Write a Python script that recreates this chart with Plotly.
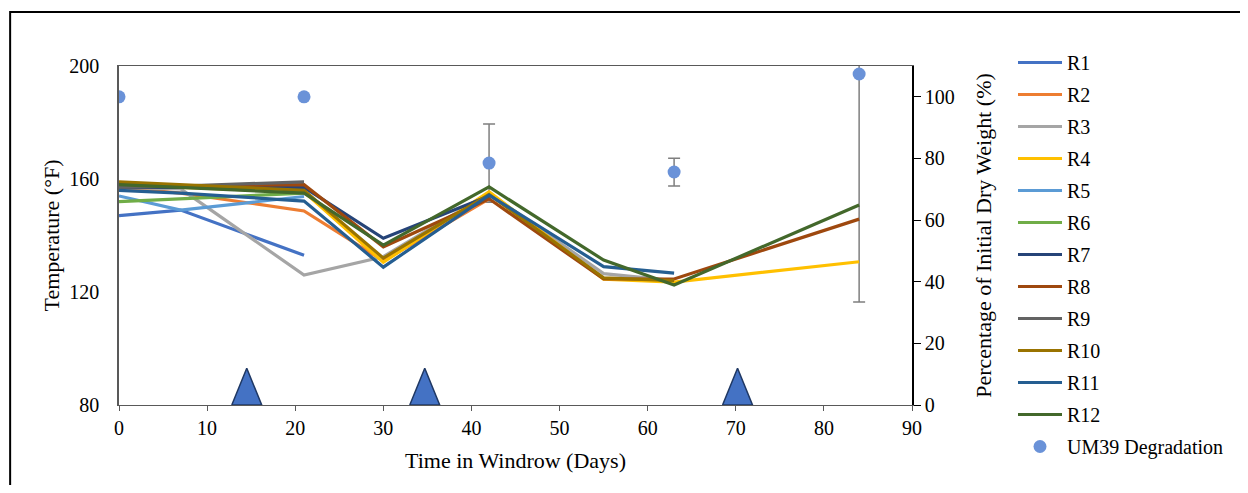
import plotly.graph_objects as go

# ---------------- data ----------------
days = [0, 7, 21, 30, 42, 55, 63, 84]
series_names = ["R1", "R2", "R3", "R4", "R5", "R6", "R7", "R8", "R9", "R10", "R11", "R12"]
R1 = [147, 149, 133]
R2 = [157, 155, 148.7, 131, 153]
R3 = [157, 156.5, 126, 132.5, 155, 126.5, 124]
R4 = [158.5, 157, 155.5, 130.5, 155.5, 124.5, 123.5, 130.7]
R5 = [154, 149, 153.8]
R6 = [152, 153, 155]
R7 = [157, 157, 157, 139, 154]
R8 = [158, 157.5, 158, 136, 153, 124.6, 124.6, 145.8]
R9 = [157, 157.5, 159]
R10 = [159, 158, 156, 132, 154.5, 125, 124]
R11 = [156, 155, 152.2, 128.8, 154.3, 129, 126.7]
R12 = [158, 157, 155, 136.6, 157.2, 131.3, 122.5, 150.8]
series_values = [R1, R2, R3, R4, R5, R6, R7, R8, R9, R10, R11, R12]
colors = ["#4472C4", "#ED7D31", "#A5A5A5", "#FFC000", "#5B9BD5", "#70AD47",
          "#264478", "#9E480E", "#636363", "#997300", "#255E91", "#43682B"]

deg_days = [0, 21, 42, 63, 84]
deg_values = [100, 100, 78.5, 75.6, 107.4]
deg_errors = [0, 0, 12.7, 4.5, 74]

turn_days = [14.5, 34.7, 70.2]   # turning events (triangles)
tri_half_width = 1.7
tri_base = 80
tri_peak = 93

FONT = "serif"

fig = go.Figure()

fig.add_trace(go.Scatter(
    x=deg_days, y=deg_values, mode="markers", name="UM39 Degradation",
    marker=dict(color="#6A92D8", size=13),
    error_y=dict(type="data", array=deg_errors, visible=True, color="#7F7F7F",
                 thickness=1.5, width=6),
    yaxis="y", legendgroup="deg", legendrank=100,
))

for i, (nm, vals) in enumerate(zip(series_names, series_values)):
    fig.add_trace(go.Scatter(
        x=days[:len(vals)], y=vals, mode="lines", name=nm,
        line=dict(color=colors[i], width=3.2),
        yaxis="y2", legendgroup=nm, legendrank=i + 1,
    ))

tx, ty = [], []
for d in turn_days:
    tx += [d - tri_half_width, d, d + tri_half_width, d - tri_half_width, None]
    ty += [tri_base, tri_peak, tri_base, tri_base, None]
fig.add_trace(go.Scatter(
    x=tx, y=ty, mode="lines", fill="toself", fillcolor="#4472C4",
    line=dict(color="#1F3864", width=1.5), showlegend=False, yaxis="y2",
    hoverinfo="skip",
))

# the page has an 8px body margin: figure occupies (8..1240, 8..485)
OFF = 8
W, H = 1248 - 2 * OFF, 493 - 2 * OFF
L, R, T, B = 119 - OFF, 913 - OFF, 66 - OFF, 405 - OFF
pw, ph = R - L, B - T

def px(xp):
    return (xp - OFF - L) / pw

def py(yp):
    return (B - (yp - OFF)) / ph

fig.update_layout(
    width=W, height=H,
    margin=dict(l=L, r=W - R, t=T, b=H - B, pad=0),
    paper_bgcolor="white", plot_bgcolor="white",
    font=dict(family=FONT, size=20, color="black"),
    showlegend=True,
    legend=dict(x=px(1013), y=py(43), xanchor="left", yanchor="top",
                font=dict(family=FONT, size=20, color="black"),
                tracegroupgap=3, itemwidth=44, maxheight=800,
                bgcolor="rgba(0,0,0,0)"),
    xaxis=dict(range=[0, 90], dtick=10, tick0=0, showgrid=False, zeroline=False,
               showline=True, linecolor="#595959", linewidth=1, mirror=True,
               ticks="outside", ticklen=5, tickcolor="#595959",
               tickfont=dict(family=FONT, size=20),
               title=dict(text="Time in Windrow (Days)", font=dict(family=FONT, size=22),
                          standoff=14)),
    yaxis=dict(range=[0, 110], dtick=20, tick0=0, side="right", showgrid=False,
               zeroline=False, showline=True, linecolor="black", linewidth=1.5,
               ticks="outside", ticklen=7, tickcolor="black",
               tickfont=dict(family=FONT, size=20),
               title=dict(text="Percentage of Initial Dry Weight (%)",
                          font=dict(family=FONT, size=22), standoff=22)),
    yaxis2=dict(range=[80, 200], dtick=40, tick0=80, side="left", overlaying="y",
                showgrid=False, zeroline=False, showline=True, linecolor="#595959",
                linewidth=1.5, ticks="", ticklabelstandoff=14,
                tickfont=dict(family=FONT, size=20),
                title=dict(text="Temperature (°F)", font=dict(family=FONT, size=22),
                           standoff=4)),
)

fig.add_shape(type="rect", xref="paper", yref="paper",
              x0=px(10), x1=px(1262), y0=py(505), y1=py(12),
              line=dict(color="black", width=2), layer="below")

fig.write_html("out.html")
